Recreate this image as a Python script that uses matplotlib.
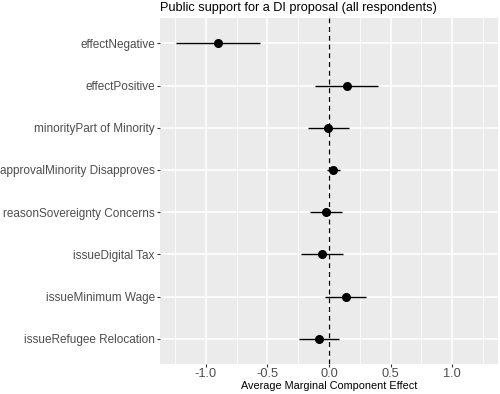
import matplotlib
matplotlib.use("Agg")
import matplotlib.pyplot as plt

# ---- data (top row first) ----
labels = [
    "effectNegative",
    "effectPositive",
    "minorityPart of Minority",
    "approvalMinority Disapproves",
    "reasonSovereignty Concerns",
    "issueDigital Tax",
    "issueMinimum Wage",
    "issueRefugee Relocation",
]
estimate = [-0.905, 0.144, -0.005, 0.030, -0.022, -0.054, 0.135, -0.081]
lower    = [-1.243, -0.110, -0.170, -0.020, -0.157, -0.224, -0.035, -0.243]
upper    = [-0.562, 0.398, 0.160, 0.087, 0.108, 0.114, 0.303, 0.079]
xticks   = [-1.0, -0.5, 0.0, 0.5, 1.0]

plt.rcParams["font.family"] = ["Liberation Sans", "DejaVu Sans"]

fig = plt.figure(figsize=(5.0, 3.94), dpi=100)
ax = fig.add_axes([0.32, 0.0761, 0.676, 0.8782])

n = len(labels)
ypos = [n - i for i in range(n)]

ax.set_facecolor("#EBEBEB")
for s in ax.spines.values():
    s.set_visible(False)

ax.set_xlim(-1.373, 1.373)
ax.set_ylim(0.4, n + 0.6)
ax.set_xticks(xticks)
ax.set_xticklabels([f"{t:.1f}" for t in xticks])
ax.set_xticks([-1.25, -0.75, -0.25, 0.25, 0.75, 1.25], minor=True)
ax.set_yticks(ypos)
ax.set_yticklabels(labels)

ax.grid(True, which="major", color="white", linewidth=1.1)
ax.grid(True, which="minor", axis="x", color="white", linewidth=0.55)
ax.set_axisbelow(True)

ax.tick_params(axis="both", which="major", length=2.2, width=0.8,
               color="#333333", labelcolor="#4D4D4D", pad=1.5)
ax.tick_params(axis="y", labelsize=8.5)
ax.tick_params(axis="x", labelsize=9.2, pad=1)
ax.tick_params(axis="both", which="minor", length=0)

ax.axvline(0, color="black", linestyle=(0, (4, 3)), linewidth=0.9, zorder=2)

xerr = [[e - lo for e, lo in zip(estimate, lower)],
        [hi - e for e, hi in zip(estimate, upper)]]
ax.errorbar(estimate, ypos, xerr=xerr, fmt="none", ecolor="black",
            elinewidth=1.0, capsize=0, zorder=3)
ax.scatter(estimate, ypos, s=30, color="black", zorder=4)

ax.set_xlabel("Average Marginal Component Effect", fontsize=7.8,
              color="black", labelpad=0.5)
ax.set_title("Public support for a DI proposal (all respondents)",
             fontsize=9.2, loc="left", pad=5)

fig.savefig("out.png", dpi=100)
